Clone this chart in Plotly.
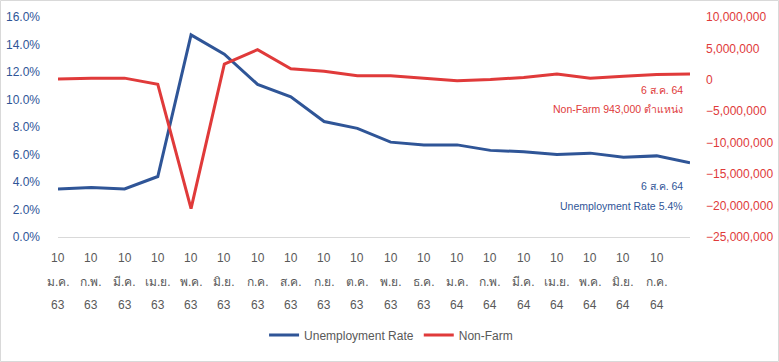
import plotly.graph_objects as go

days = ["10"] * 19 + [""]
months = ["ม.ค.", "ก.พ.", "มี.ค.", "เม.ย.", "พ.ค.", "มิ.ย.", "ก.ค.", "ส.ค.", "ก.ย.", "ต.ค.",
          "พ.ย.", "ธ.ค.", "ม.ค.", "ก.พ.", "มี.ค.", "เม.ย.", "พ.ค.", "มิ.ย.", "ก.ค.", ""]
years = ["63"] * 12 + ["64"] * 7 + [""]
unemployment = [3.5, 3.6, 3.5, 4.4, 14.7, 13.3, 11.1, 10.2, 8.4, 7.9,
                6.9, 6.7, 6.7, 6.3, 6.2, 6.0, 6.1, 5.8, 5.9, 5.4]
nonfarm = [145000, 273000, 275000, -701000, -20500000, 2509000, 4800000, 1763000, 1371000, 661000,
           638000, 245000, -140000, 49000, 379000, 916000, 266000, 559000, 850000, 943000]

BLUE = "#2F5597"
RED = "#E03A3A"
GRAY = "#595959"
FONT = "Liberation Sans, Arial, sans-serif"

x = list(range(len(unemployment)))

fig = go.Figure()
fig.add_trace(go.Scatter(x=x, y=unemployment, name="Unemployment Rate", mode="lines",
                         line=dict(color=BLUE, width=3), yaxis="y"))
fig.add_trace(go.Scatter(x=x, y=nonfarm, name="Non-Farm", mode="lines",
                         line=dict(color=RED, width=3), yaxis="y2"))

ann = []
for i in x:
    for row, txt in enumerate([days[i], months[i], years[i]]):
        if txt:
            ann.append(dict(x=i, y=0, xref="x", yref="paper", text=txt, showarrow=False,
                            yanchor="middle", xanchor="center", yshift=-21 - 23.5 * row,
                            font=dict(family=FONT, size=12, color=GRAY)))

def note(ypix, text, color):
    return dict(x=1, y=1 - (ypix - 17) / 220, xref="paper", yref="paper", xanchor="right",
                yanchor="middle", text=text, showarrow=False, xshift=-5,
                font=dict(family=FONT, size=10.5, color=color))

ann += [
    note(90, "6 ส.ค. 64", RED),
    note(109, "Non-Farm 943,000 ตำแหน่ง", RED),
    note(186, "6 ส.ค. 64", BLUE),
    note(206, "Unemployment Rate 5.4%", BLUE),
]

fig.update_layout(
    width=779, height=362,
    margin=dict(l=58, r=89, t=17, b=125, autoexpand=False),
    paper_bgcolor="white", plot_bgcolor="white",
    font=dict(family=FONT, size=12),
    showlegend=True,
    legend=dict(orientation="h", x=0.527, xanchor="center", y=-0.445, yanchor="middle",
                font=dict(family=FONT, size=12, color=GRAY), itemwidth=30),
    xaxis=dict(range=[0, 19], showticklabels=False, showgrid=False, zeroline=False,
               showline=False, ticks="", automargin=False),
    yaxis=dict(range=[0, 16], dtick=2, tickformat=".1f", ticksuffix="%", showgrid=False,
               zeroline=True, zerolinecolor="#D9D9D9", zerolinewidth=1, automargin=False,
               tickfont=dict(family=FONT, size=12, color=BLUE), ticklabelstandoff=17),
    yaxis2=dict(range=[-25000000, 10000000], dtick=5000000, overlaying="y", side="right",
                showgrid=False, zeroline=False, tickformat=",d", automargin=False,
                tickfont=dict(family=FONT, size=12, color=RED), ticklabelstandoff=15),
    annotations=ann,
    shapes=[dict(type="rect", xref="paper", yref="paper",
                 x0=-57.5 / 632, x1=1 + 88.5 / 632, y0=-124.5 / 220, y1=1 + 16.5 / 220,
                 line=dict(color="#D9D9D9", width=1))],
)

fig.write_html("out.html", config={"displayModeBar": False},
               post_script="document.body.style.margin='0';document.body.style.overflow='hidden';")
